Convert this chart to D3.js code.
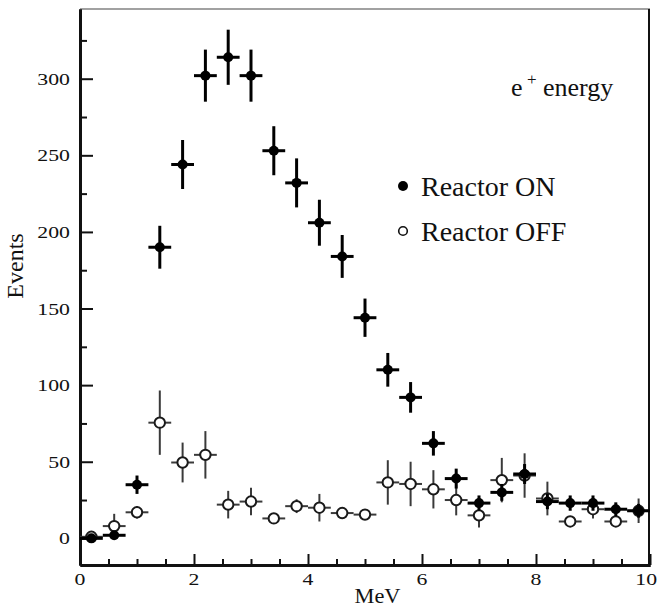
<!DOCTYPE html>
<html>
<head>
<meta charset="utf-8">
<script src="https://cdn.jsdelivr.net/npm/d3@7"></script>
<style>
  html, body { margin: 0; padding: 0; background: #fff; }
  svg { display: block; }
  text { font-family: "Liberation Serif", "Times New Roman", serif; fill: #111; }
</style>
</head>
<body>
<svg id="chart" width="658" height="607"></svg>
<script>
// Positron energy spectrum, reactor on vs. reactor off (0.4 MeV bins)
const binCenters = [0.2, 0.6, 1.0, 1.4, 1.8, 2.2, 2.6, 3.0, 3.4, 3.8, 4.2, 4.6, 5.0,
                    5.4, 5.8, 6.2, 6.6, 7.0, 7.4, 7.8, 8.2, 8.6, 9.0, 9.4, 9.8];
const binHalfWidth = 0.2;

const onCounts = [0, 2, 35, 190, 244, 302, 314, 302, 253, 232, 206, 184, 144,
                  110, 92, 62, 39, 23, 30, 42, 24, 23, 23, 19, 18];
const onErrors = [1, 1.5, 6, 14, 16, 17, 18, 17, 16, 16, 15, 14, 12.5,
                  11, 10, 8, 6.5, 5, 5.5, 6.5, 5, 5, 5, 4.5, 4.5];

const offCounts = [1, 8, 17, 75.5, 49.5, 54.5, 22, 24, 13, 21, 20, 16.5, 15.5,
                   36.5, 35.5, 32, 25, 15, 38, 41, 26, 11, 19, 11, 18];
const offErrors = [1, 8, 4, 21, 13, 15.5, 9, 9, 3, 4.5, 9, 3, 3,
                   14.5, 14.5, 12.5, 10, 8, 14.5, 14.5, 11, 3, 6, 3, 8];

const xMajorTicks = [0, 2, 4, 6, 8, 10];
const xMinorTicks = d3.range(0.5, 10, 0.5).filter(v => v % 2 !== 0);
const yMajorTicks = [0, 50, 100, 150, 200, 250, 300];
const yMinorTicks = [25, 75, 125, 175, 225, 275, 325];

const legendItems = ["Reactor ON", "Reactor OFF"];

const W = 658, H = 607;
const margin = { top: 9, right: 8, bottom: 42, left: 80 };
const svg = d3.select("#chart");

const x = d3.scaleLinear().domain([0, 10]).range([margin.left, W - margin.right]);
const y = d3.scaleLinear().domain([-17.4, 345.5]).range([H - margin.bottom, margin.top]);

// text helper: serif glyphs, optionally widened horizontally
function label(g, px, py, str, opts) {
  const o = Object.assign({ size: 17, sx: 1, anchor: "start" }, opts || {});
  return g.append("text")
    .attr("transform", `translate(${px},${py}) scale(${o.sx},1)`)
    .attr("text-anchor", o.anchor)
    .style("font-size", o.size + "px")
    .text(str);
}

// frame: thin top, heavier right
svg.append("line")
  .attr("x1", x(0)).attr("x2", x(10)).attr("y1", y(345.5)).attr("y2", y(345.5))
  .attr("stroke", "#444").attr("stroke-width", 1.2);
svg.append("line")
  .attr("x1", x(10) - 1).attr("x2", x(10) - 1).attr("y1", y(345.5)).attr("y2", y(-17.4))
  .attr("stroke", "#111").attr("stroke-width", 2);

// bottom axis, ticks pointing inward
const xAxisMajor = d3.axisBottom(x).tickValues(xMajorTicks).tickSize(-11).tickSizeOuter(0).tickFormat("");
const xAxisMinor = d3.axisBottom(x).tickValues(xMinorTicks).tickSize(-6).tickSizeOuter(0).tickFormat("");
const gx = svg.append("g").attr("transform", `translate(0,${y(-17.4)})`);
gx.call(xAxisMinor);
gx.append("g").call(xAxisMajor);
gx.selectAll("path.domain").attr("stroke", "#111").attr("stroke-width", 3);
gx.selectAll(".tick line").attr("stroke", "#111").attr("stroke-width", 2);

// left axis, ticks pointing inward
const yAxisMajor = d3.axisLeft(y).tickValues(yMajorTicks).tickSize(-13).tickSizeOuter(0).tickFormat("");
const yAxisMinor = d3.axisLeft(y).tickValues(yMinorTicks).tickSize(-7).tickSizeOuter(0).tickFormat("");
const gy = svg.append("g").attr("transform", `translate(${x(0)},0)`);
gy.call(yAxisMinor);
gy.append("g").call(yAxisMajor);
gy.selectAll("path.domain").attr("stroke", "#111").attr("stroke-width", 3);
gy.selectAll(".tick line").attr("stroke", "#111").attr("stroke-width", 2);

// tick labels (the last one is right-aligned so it stays on the page)
const tl = svg.append("g");
xMajorTicks.forEach((v, i) => {
  const last = i === xMajorTicks.length - 1;
  label(tl, last ? W - 1 : x(v), 585, String(v),
        { size: 17, sx: 1.28, anchor: last ? "end" : "middle" });
});
yMajorTicks.forEach(v => label(tl, x(0) - 10, y(v) + 6, String(v), { size: 17, sx: 1.28, anchor: "end" }));

// axis titles
label(svg, 377.5, 603, "MeV", { size: 20, sx: 1.12, anchor: "middle" });
svg.append("text")
  .attr("transform", "translate(23,266) rotate(-90)")
  .attr("text-anchor", "middle")
  .style("font-size", "24px")
  .text("Events");

// data series with error bars
function drawSeries(counts, errors, style) {
  const g = svg.append("g");
  const pts = binCenters.map((c, i) => ({ c, v: counts[i], e: errors[i] }));
  g.selectAll("line.h").data(pts).join("line")
    .attr("x1", d => x(d.c - binHalfWidth)).attr("x2", d => x(d.c + binHalfWidth))
    .attr("y1", d => y(d.v)).attr("y2", d => y(d.v))
    .attr("stroke", style.line).attr("stroke-width", style.width);
  g.selectAll("line.v").data(pts).join("line")
    .attr("x1", d => x(d.c)).attr("x2", d => x(d.c))
    .attr("y1", d => y(d.v - d.e)).attr("y2", d => y(d.v + d.e))
    .attr("stroke", style.line).attr("stroke-width", style.width);
  g.selectAll("circle").data(pts).join("circle")
    .attr("cx", d => x(d.c)).attr("cy", d => y(d.v)).attr("r", style.r)
    .attr("fill", style.fill).attr("stroke", style.stroke).attr("stroke-width", style.sw);
}

drawSeries(offCounts, offErrors, { line: "#3a3a3a", width: 2, r: 5.2, fill: "#fff", stroke: "#1a1a1a", sw: 2 });
drawSeries(onCounts, onErrors, { line: "#000", width: 3, r: 5, fill: "#000", stroke: "#000", sw: 0 });

// legend
const lg = svg.append("g");
lg.append("circle").attr("cx", 403).attr("cy", 186).attr("r", 5).attr("fill", "#000");
label(lg, 421, 196, legendItems[0], { size: 28 });
lg.append("circle").attr("cx", 403).attr("cy", 231).attr("r", 4.3)
  .attr("fill", "#fff").attr("stroke", "#111").attr("stroke-width", 1.6);
label(lg, 421, 241, legendItems[1], { size: 28 });

// panel title
const tg = svg.append("g");
label(tg, 511, 96, "e", { size: 26 });
label(tg, 527, 85, "+", { size: 17 });
label(tg, 543, 96, "energy", { size: 26 });
</script>
</body>
</html>
